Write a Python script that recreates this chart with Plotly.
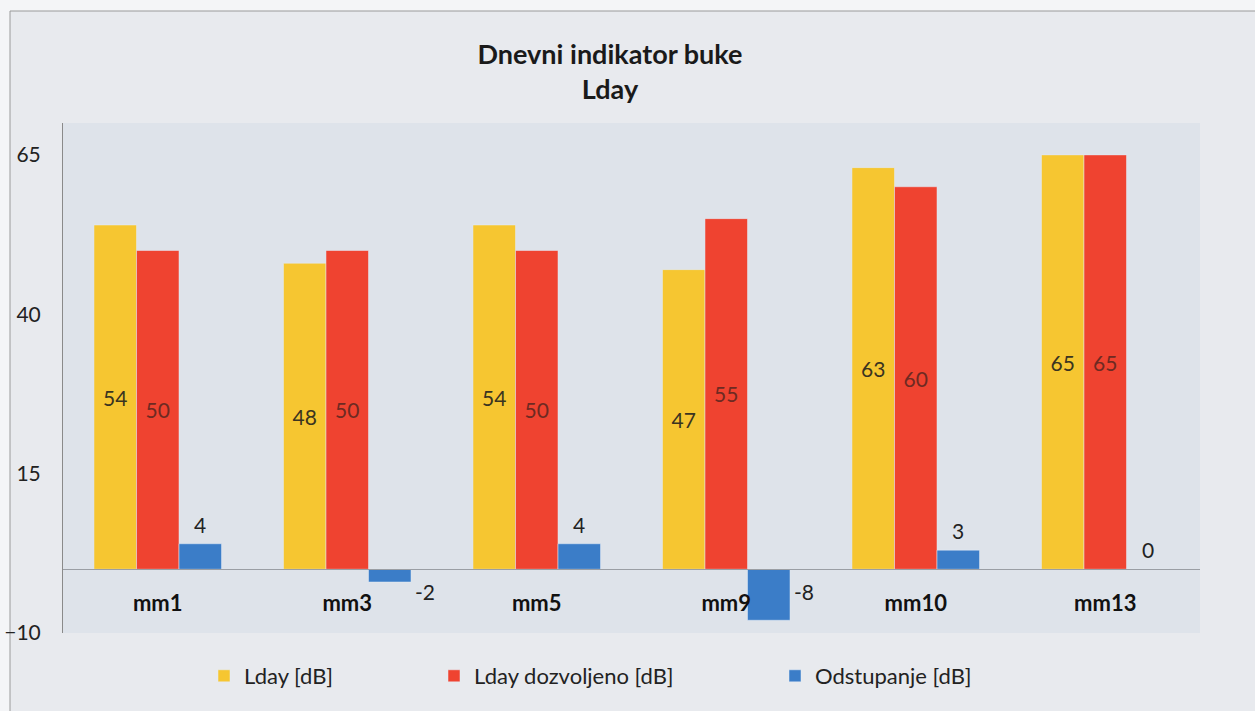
import plotly.graph_objects as go

categories = ["mm1", "mm3", "mm5", "mm9", "mm10", "mm13"]
lday = [54, 48, 54, 47, 63, 65]
lday_dozvoljeno = [50, 50, 50, 55, 60, 65]
odstupanje = [4, -2, 4, -8, 3, 0]
y_ticks = [-10, 15, 40, 65]

Y_MIN, Y_MAX = -10, 70
FONT = "Lato"
W, H = 1255, 711
ML, MR, MT, MB = 63, 55, 123, 78
PW, PH = W - ML - MR, H - MT - MB

def px_to_paper_x(px):
    return (px - ML) / PW

def px_to_paper_y(py):
    return (H - MB - py) / PH

fig = go.Figure()
fig.add_trace(go.Bar(
    x=categories, y=lday, name="Lday [dB]", marker_color="#F6C631",
    text=[str(v) for v in lday], textposition="inside", insidetextanchor="middle",
    textangle=0, constraintext="none",
    textfont=dict(family=FONT, size=21, color="#3a3420"), legend="legend",
))
fig.add_trace(go.Bar(
    x=categories, y=lday_dozvoljeno, name="Lday dozvoljeno [dB]", marker_color="#EF4330",
    text=[str(v) for v in lday_dozvoljeno], textposition="inside", insidetextanchor="middle",
    textangle=0, constraintext="none",
    textfont=dict(family=FONT, size=21, color="#6e2a22"), legend="legend2",
))
fig.add_trace(go.Bar(
    x=categories, y=odstupanje, name="Odstupanje [dB]", marker_color="#3B7DC8",
    legend="legend3",
))

annotations = []
for c, v in zip(categories, odstupanje):
    if v >= 0:
        annotations.append(dict(x=c, y=v, xref="x", yref="y", text=str(v), showarrow=False,
                                xanchor="center", yanchor="bottom", xshift=42.5, yshift=5,
                                font=dict(family=FONT, size=21, color="#222")))
    else:
        annotations.append(dict(x=c, y=0, xref="x", yref="y", text=str(v), showarrow=False,
                                xanchor="left", yanchor="top", xshift=66, yshift=-8,
                                font=dict(family=FONT, size=21, color="#222")))

shapes = [
    dict(type="rect", xref="paper", yref="paper", layer="below",
         x0=px_to_paper_x(10), x1=px_to_paper_x(W + 20),
         y0=px_to_paper_y(H + 20), y1=px_to_paper_y(11),
         fillcolor="#e8eaee", line=dict(color="#9a9a9a", width=1)),
    dict(type="rect", xref="paper", yref="paper", layer="below",
         x0=0, x1=1, y0=0, y1=1, fillcolor="#dee3ea", line=dict(width=0)),
]

legend_common = dict(orientation="h", yanchor="middle", y=px_to_paper_y(676), xanchor="left",
                     bgcolor="rgba(0,0,0,0)", font=dict(family=FONT, size=22, color="#222"),
                     itemclick=False)

fig.update_layout(
    width=W, height=H,
    margin=dict(l=ML, r=MR, t=MT, b=MB, autoexpand=False),
    paper_bgcolor="#f4f5f7",
    plot_bgcolor="rgba(0,0,0,0)",
    barmode="group", bargap=0.327, bargroupgap=0,
    title=dict(text="<b>Dnevni indikator buke<br>Lday</b>", x=610 / W, xanchor="center",
               xref="container", y=1 - 64 / H, yanchor="top", yref="container",
               font=dict(family=FONT, size=27, color="#1a1a1a")),
    xaxis=dict(anchor="free", position=(0 - Y_MIN) / (Y_MAX - Y_MIN), showline=True,
               linecolor="#9a9ea4", linewidth=1, ticks="", ticklabelstandoff=14,
               tickfont=dict(family=FONT, size=22, color="#111", weight="bold"),
               showgrid=False, zeroline=False, automargin=False),
    yaxis=dict(range=[Y_MIN, Y_MAX], tickvals=y_ticks, showline=True, linecolor="#8a8a8a",
               linewidth=1, ticks="", showgrid=False, zeroline=False, ticklabelstandoff=17,
               tickfont=dict(family=FONT, size=21, color="#222"), automargin=False),
    legend=dict(**legend_common, x=px_to_paper_x(204)),
    legend2=dict(**legend_common, x=px_to_paper_x(434)),
    legend3=dict(**legend_common, x=px_to_paper_x(775)),
    annotations=annotations,
    shapes=shapes,
    showlegend=True,
)

fig.write_html("out.html", config={"displayModeBar": False},
               post_script="document.body.style.margin='0';document.body.style.overflow='hidden';")
